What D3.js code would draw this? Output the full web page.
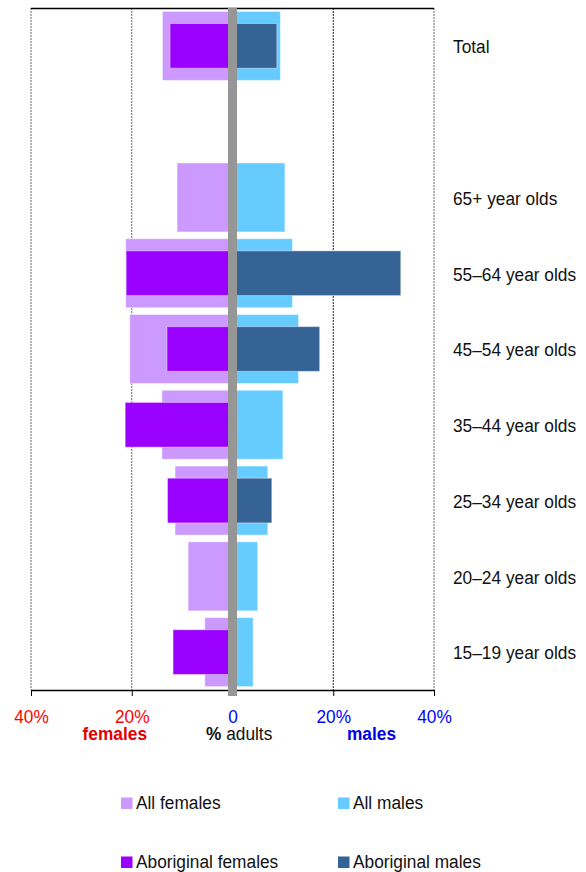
<!DOCTYPE html>
<html>
<head>
<meta charset="utf-8">
<script src="https://cdn.jsdelivr.net/npm/d3@7/dist/d3.min.js"></script>
<style>
  html, body { margin: 0; padding: 0; background: #fff; }
  svg { display: block; font-family: "Liberation Sans", Arial, sans-serif; }
</style>
</head>
<body>
<svg id="chart" width="586" height="872"></svg>
<script>
// Age groups, top to bottom ("" is the spacer row under Total)
const categories = ["Total", "", "65+ year olds", "55–64 year olds", "45–54 year olds",
  "35–44 year olds", "25–34 year olds", "20–24 year olds", "15–19 year olds"];

// % of adults, per group
const allFemales        = [13.9, null, 11.0, 21.2, 20.4, 14.0, 11.4, 8.8, 5.5];
const allMales          = [9.5, null, 10.4, 11.9, 13.1, 10.0, 7.0, 5.0, 4.1];
const aboriginalFemales = [12.4, null, null, 21.1, 13.0, 21.3, 12.9, null, 11.8];
const aboriginalMales   = [8.8, null, null, 33.4, 17.3, null, 7.8, null, null];

const tickValues = [-40, -20, 0, 20, 40];
const legendLabels = ["All females", "All males", "Aboriginal females", "Aboriginal males"];

const colors = {
  allF: "#cc99ff", allM: "#66ccff", abF: "#9900ff", abM: "#356395",
  zero: "#969696", red: "#ff0000", blue: "#0000ff"
};
const SX = 0.93; // slightly condensed lettering

const svg = d3.select("#chart");
const plotTop = 8, plotBottom = 690;

const x = d3.scaleLinear().domain([-40, 40]).range([31, 434]);
const y = d3.scaleBand().domain(categories.map((c, i) => i)).range([plotTop, plotBottom]);
const inner = y.bandwidth() * 0.59;
const outer = y.bandwidth() * 0.91;

// grid lines
svg.append("g").selectAll("line")
  .data(tickValues.filter(v => v !== 0))
  .join("line")
  .attr("x1", d => x(d)).attr("x2", d => x(d))
  .attr("y1", plotTop).attr("y2", plotBottom)
  .attr("stroke", (d) => d === 20 ? "#222" : "#666")
  .attr("stroke-width", 1)
  .attr("stroke-dasharray", "2,1");

// top frame line
svg.append("line")
  .attr("x1", x(-40)).attr("x2", x(40))
  .attr("y1", plotTop + 0.5).attr("y2", plotTop + 0.5)
  .attr("stroke", "#000").attr("stroke-width", 1.5);

function bars(values, sign, h, fill) {
  const rows = values.map((v, i) => ({ v, i })).filter(d => d.v != null);
  svg.append("g").selectAll("rect")
    .data(rows)
    .join("rect")
    .attr("x", d => sign < 0 ? x(-d.v) : x(0))
    .attr("width", d => Math.abs(x(sign * d.v) - x(0)))
    .attr("y", d => y(d.i) + (y.bandwidth() - h) / 2)
    .attr("height", h)
    .attr("fill", fill)
    .attr("stroke", "#ffffff")
    .attr("stroke-opacity", 0.4)
    .attr("stroke-width", 1);
}
bars(allFemales, -1, outer, colors.allF);
bars(allMales, 1, outer, colors.allM);
bars(aboriginalFemales, -1, inner, colors.abF);
bars(aboriginalMales, 1, inner, colors.abM);

// x axis
const axis = d3.axisBottom(x)
  .tickValues(tickValues)
  .tickSize(6)
  .tickSizeOuter(0)
  .tickFormat(d => d === 0 ? "0" : Math.abs(d) + "%");
const ax = svg.append("g").attr("transform", `translate(0,${plotBottom})`).call(axis);
ax.select(".domain").attr("stroke", "#000").attr("stroke-width", 1.3);
ax.selectAll(".tick line").attr("stroke", "#000");
ax.selectAll(".tick text")
  .attr("y", 33).attr("dy", 0)
  .attr("font-size", 18.6)
  .attr("font-family", "'Liberation Sans', Arial, sans-serif")
  .attr("transform", `scale(${SX},1)`)
  .attr("fill", d => d < 0 ? colors.red : colors.blue);

// zero bar
svg.append("rect")
  .attr("x", x(0) - 4.5).attr("width", 9)
  .attr("y", plotTop).attr("height", plotBottom + 6 - plotTop)
  .attr("fill", colors.zero);

function label(x0, y0, anchor) {
  return svg.append("text")
    .attr("transform", `translate(${x0},${y0}) scale(${SX},1)`)
    .attr("text-anchor", anchor || "start")
    .attr("font-size", 18.6);
}

// category labels
categories.forEach((c, i) => {
  if (!c) return;
  label(453, y(i) + y.bandwidth() / 2 + 7.3).attr("fill", "#111").text(c);
});

// axis captions
label(147, 740, "end").attr("fill", "#e00000").attr("font-weight", "bold").text("females");
const adults = label(206, 740).attr("fill", "#111");
adults.append("tspan").attr("font-weight", "bold").text("%");
adults.append("tspan").text(" adults");
label(347, 740).attr("fill", "#0000e6").attr("font-weight", "bold").text("males");

// legend
const legendPos = [[121, 809], [338, 809], [121, 868], [338, 868]];
const legendFill = [colors.allF, colors.allM, colors.abF, colors.abM];
legendLabels.forEach((t, i) => {
  const [lx, ly] = legendPos[i];
  svg.append("rect").attr("x", lx).attr("y", ly - 11.5).attr("width", 11.5).attr("height", 11.5)
    .attr("fill", legendFill[i]);
  label(lx + 15, ly).attr("fill", "#111").text(t);
});
</script>
</body>
</html>
